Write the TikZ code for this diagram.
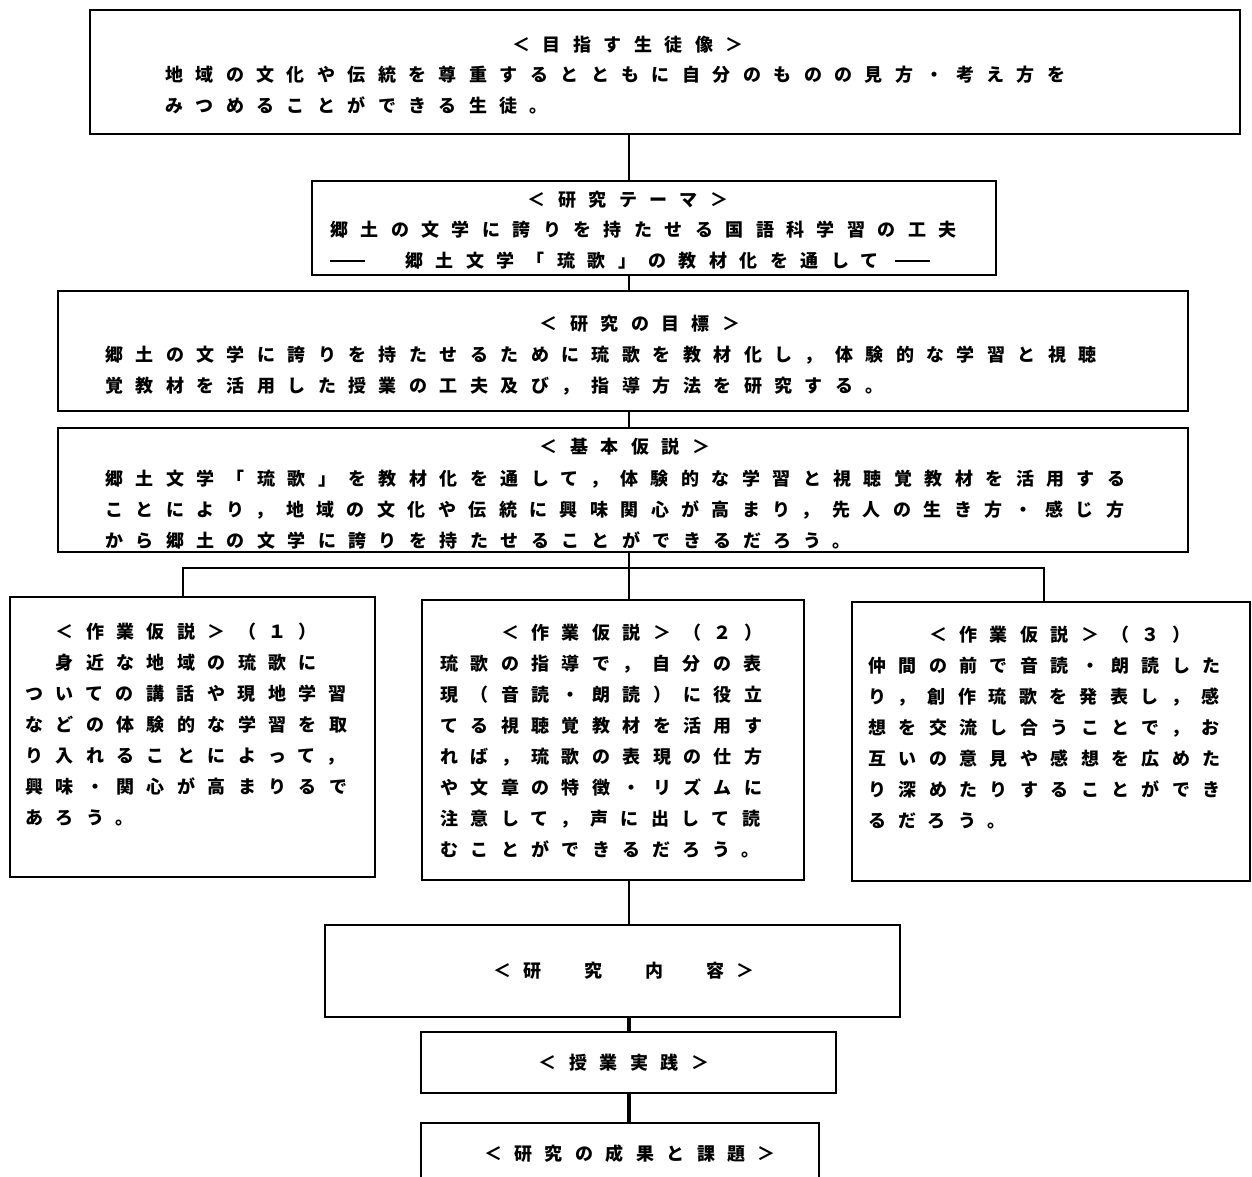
\documentclass[tikz,border=0pt]{standalone}
\usepackage{fontspec}
\usepackage{tikz}
\newfontfamily\jpfont[LetterSpace=69]{Noto Sans CJK JP}
\tikzstyle{framebox} = [draw=black, line width=1.5pt, rectangle, inner sep=0pt]
\tikzstyle{bodytext} = [inner sep=0pt, align=left, anchor=north west, font=\jpfont\bfseries\fontsize{18}{31}\selectfont]
\tikzstyle{titletext} = [inner sep=0pt, anchor=base, font=\jpfont\bfseries\fontsize{18}{31}\selectfont]
\tikzstyle{link} = [draw=black, line width=2.4pt]
\newcommand{\longdash}{\rule[6pt]{35pt}{1.6pt}}

\begin{document}
\begin{tikzpicture}[x=1pt, y=-1pt]
	\useasboundingbox (0,0) rectangle (1252,1177);
	\coordinate (spine) at (629,0);
	% frames
	\node [framebox, minimum width=1150, minimum height=124] (aim) at (665,72) {};
	\node [framebox, minimum width=684, minimum height=94] (theme) at (654,228) {};
	\node [framebox, minimum width=1130, minimum height=120] (goal) at (623,351) {};
	\node [framebox, minimum width=1130, minimum height=124] (basic) at (623,490) {};
	\node [framebox, minimum width=365, minimum height=280] (hypA) at (192.5,737) {};
	\node [framebox, minimum width=382, minimum height=280] (hypB) at (613,740) {};
	\node [framebox, minimum width=398, minimum height=279] (hypC) at (1051,741.5) {};
	\node [framebox, minimum width=575, minimum height=92] (content) at (612.5,971) {};
	\node [framebox, minimum width=415, minimum height=61] (practice) at (628.5,1062.5) {};
	\node [framebox, minimum width=398, minimum height=80] (results) at (620,1163) {};
	% texts
	\node [titletext] (aimtitle) at (628,52) {＜目指す生徒像＞};
	\node [bodytext] (aimtext) at (165,66) {%
		地域の文化や伝統を尊重するとともに自分のものの見方・考え方を\\
		みつめることができる生徒。};
	\node [titletext] (themetitle) at (628,206) {＜研究テーマ＞};
	\node [bodytext] (themetext) at (330,221) {%
		郷土の文学に誇りを持たせる国語科学習の工夫\\
		\longdash\hspace{40pt}郷土文学「琉歌」の教材化を通して\hspace{16pt}\longdash};
	\node [titletext] (goaltitle) at (640,330) {＜研究の目標＞};
	\node [bodytext] (goaltext) at (105,346) {%
		郷土の文学に誇りを持たせるために琉歌を教材化し，体験的な学習と視聴\\
		覚教材を活用した授業の工夫及び，指導方法を研究する。};
	\node [titletext] (basictitle) at (625,453) {＜基本仮説＞};
	\node [bodytext] (basictext) at (105,470) {%
		郷土文学「琉歌」を教材化を通して，体験的な学習と視聴覚教材を活用する\\
		ことにより，地域の文化や伝統に興味関心が高まり，先人の生き方・感じ方\\
		から郷土の文学に誇りを持たせることができるだろう。};
	\node [bodytext] (hypAtext) at (25,623) {%
		　＜作業仮説＞（１）\\
		　身近な地域の琉歌に\\
		ついての講話や現地学習\\
		などの体験的な学習を取\\
		り入れることによって，\\
		興味・関心が高まりるで\\
		あろう。};
	\node [bodytext] (hypBtext) at (440,624) {%
		　　＜作業仮説＞（２）\\
		琉歌の指導で，自分の表\\
		現（音読・朗読）に役立\\
		てる視聴覚教材を活用す\\
		れば，琉歌の表現の仕方\\
		や文章の特徴・リズムに\\
		注意して，声に出して読\\
		むことができるだろう。};
	\node [bodytext] (hypCtext) at (868,626) {%
		　　＜作業仮説＞（３）\\
		仲間の前で音読・朗読した\\
		り，創作琉歌を発表し，感\\
		想を交流し合うことで，お\\
		互いの意見や感想を広めた\\
		り深めたりすることができ\\
		るだろう。};
	\node [titletext] (contenttitle) at (624,977) {＜研　究　内　容＞};
	\node [titletext] (practicetitle) at (624,1069) {＜授業実践＞};
	\node [titletext] (resultstitle) at (630,1160) {＜研究の成果と課題＞};
	% connectors
	\coordinate (barA) at (183,568);
	\coordinate (barC) at (1044,568);
	\draw [link] (aim.south -| spine) -- (theme.north -| spine);
	\draw [link] (theme.south -| spine) -- (goal.north -| spine);
	\draw [link] (goal.south -| spine) -- (basic.north -| spine);
	\draw [link] (basic.south -| spine) -- (hypB.north -| spine);
	\draw [link] (hypA.north -| barA) -- (barA) -- (barC) -- (hypC.north -| barC);
	\draw [link] (hypB.south -| spine) -- (content.north -| spine);
	\draw [link, line width=3.2pt] (content.south -| spine) -- (practice.north -| spine);
	\draw [link, line width=3.2pt] (practice.south -| spine) -- (results.north -| spine);
\end{tikzpicture}
\end{document}
